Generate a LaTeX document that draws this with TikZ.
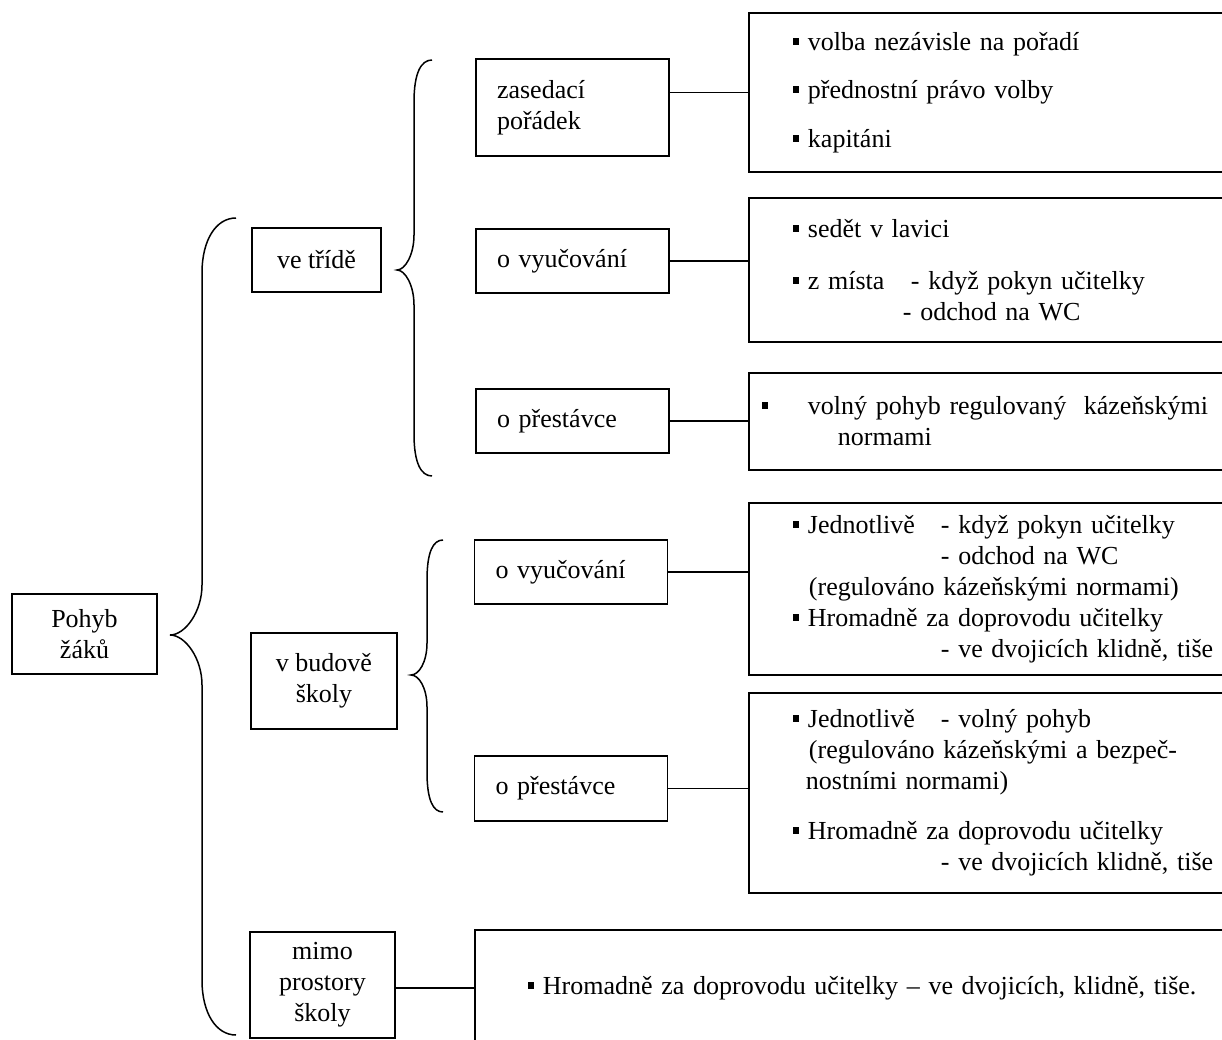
\documentclass[tikz,border=0pt]{standalone}
\usepackage{fontspec}
\setmainfont{Liberation Serif}
\usepackage{tikz}
\usetikzlibrary{positioning}
\newcommand{\sqb}{\makebox[15pt][l]{\rule[5.5pt]{6.5pt}{7pt}}}
\tikzset{
    headbox/.style={
        rectangle,
        draw=black,
        line width=1.9pt,
        align=center,
        inner sep=0pt,
    },
    subbox/.style={
        rectangle,
        draw=black,
        line width=1.9pt,
        align=left,
        text width=151pt,
        inner xsep=21pt,
        inner ysep=0pt,
        minimum height=64pt,
    },
    listbox/.style={
        rectangle,
        draw=black,
        line width=1.9pt,
        align=left,
        anchor=west,
        inner xsep=44pt,
        inner ysep=0pt,
        text width=480pt,
    },
    brace/.style={line width=1.5pt},
    link/.style={line width=1.6pt},
}
\begin{document}
\begin{tikzpicture}[x=1pt,y=-1pt,font=\fontsize{26}{31}\selectfont]
      \useasboundingbox (0,0) rectangle (1222,1040);
      \clip (0,0) rectangle (1222,1040);

      % left column
      \node [headbox, minimum width=145pt, minimum height=80pt] (pohyb) at (84.5,634) {Pohyb\\žáků};
      \node [headbox, minimum width=129pt, minimum height=64pt] (trida) at (316.5,260) {ve třídě};
      \node [headbox, minimum width=146pt, minimum height=96pt] (budova) at (324,681) {v budově\\školy};
      \node [headbox, minimum width=145pt, minimum height=106pt] (mimo) at (322.5,985) {mimo\\prostory\\školy};

      % middle column
      \node [subbox, minimum height=97pt] (zas) at (572.5,107.5) {zasedací\\pořádek};
      \node [subbox] (vyuc1) at (572.5,261) {o vyučování};
      \node [subbox] (prest1) at (572.5,421) {o přestávce};
      \node [subbox] (vyuc2) at (571,572) {o vyučování};
      \node [subbox, minimum height=65pt] (prest2) at (571,788.5) {o přestávce};

      % right column
      \node [listbox, minimum height=159pt] (r1) at (748,92.5)
        {\sqb volba nezávisle na pořadí\\[17.5pt]\sqb přednostní právo volby\\[17.5pt]\sqb kapitáni};
      \node [listbox, minimum height=144pt] (r2) at (748,270)
        {\sqb sedět v lavici\\[21pt]\sqb\makebox[103pt][l]{z místa}- když pokyn učitelky\\\hspace*{110pt}- odchod na WC};
      \node [listbox, minimum height=97pt, inner xsep=13pt, text width=540pt] (r3) at (748,421.5)
        {\makebox[46pt][l]{\rule[5.5pt]{6.5pt}{7pt}}volný pohyb regulovaný\ \ kázeňskými\\\hspace*{76pt}normami};
      \node [listbox, minimum height=172pt] (r4) at (748,589)
        {\sqb\makebox[133pt][l]{Jednotlivě}- když pokyn učitelky\\\hspace*{148pt}- odchod na WC\\\hspace*{16pt}(regulováno kázeňskými normami)\\\sqb Hromadně za doprovodu učitelky\\\hspace*{148pt}- ve dvojicích klidně, tiše};
      \node [listbox, minimum height=200pt] (r5) at (748,793)
        {\sqb\makebox[133pt][l]{Jednotlivě}- volný pohyb\\\hspace*{16pt}(regulováno kázeňskými a bezpeč-\\\hspace*{13pt}nostními normami)\\[19pt]\sqb Hromadně za doprovodu učitelky\\\hspace*{148pt}- ve dvojicích klidně, tiše};
      \node [listbox, minimum height=116pt, inner xsep=53pt, text width=730pt] (r6) at (474,988)
        {\sqb Hromadně za doprovodu učitelky – ve dvojicích, klidně, tiše.};

      % connectors
      \draw [link] (zas.east |- r1.west) -- (r1.west);
      \draw [link] (vyuc1.east) -- (vyuc1.east -| r2.west);
      \draw [link] (prest1.east) -- (prest1.east -| r3.west);
      \draw [link] (vyuc2.east) -- (vyuc2.east -| r4.west);
      \draw [link] (prest2.east) -- (prest2.east -| r5.west);
      \draw [link] (mimo.east |- r6.west) -- (r6.west);

      % braces
      \draw [brace] (236,218) .. controls (216,218) and (202,240) .. (202,273) -- (202,585)
        .. controls (202,612) and (185,635) .. (170,635) .. controls (185,635) and (202,658) .. (202,685)
        -- (202,980) .. controls (202,1013) and (216,1035) .. (236,1035);
      \draw [brace] (432,60) .. controls (421,60) and (414,73) .. (414,102) -- (414,235)
        .. controls (414,255) and (405,270) .. (397,270) .. controls (405,270) and (414,285) .. (414,305)
        -- (414,434) .. controls (414,463) and (421,476) .. (432,476);
      \draw [brace] (443,540) .. controls (433,540) and (427,552) .. (427,580) -- (427,643)
        .. controls (427,662) and (419,675) .. (411,675) .. controls (419,675) and (427,688) .. (427,707)
        -- (427,772) .. controls (427,800) and (433,812) .. (443,812);

    \end{tikzpicture}
\end{document}
